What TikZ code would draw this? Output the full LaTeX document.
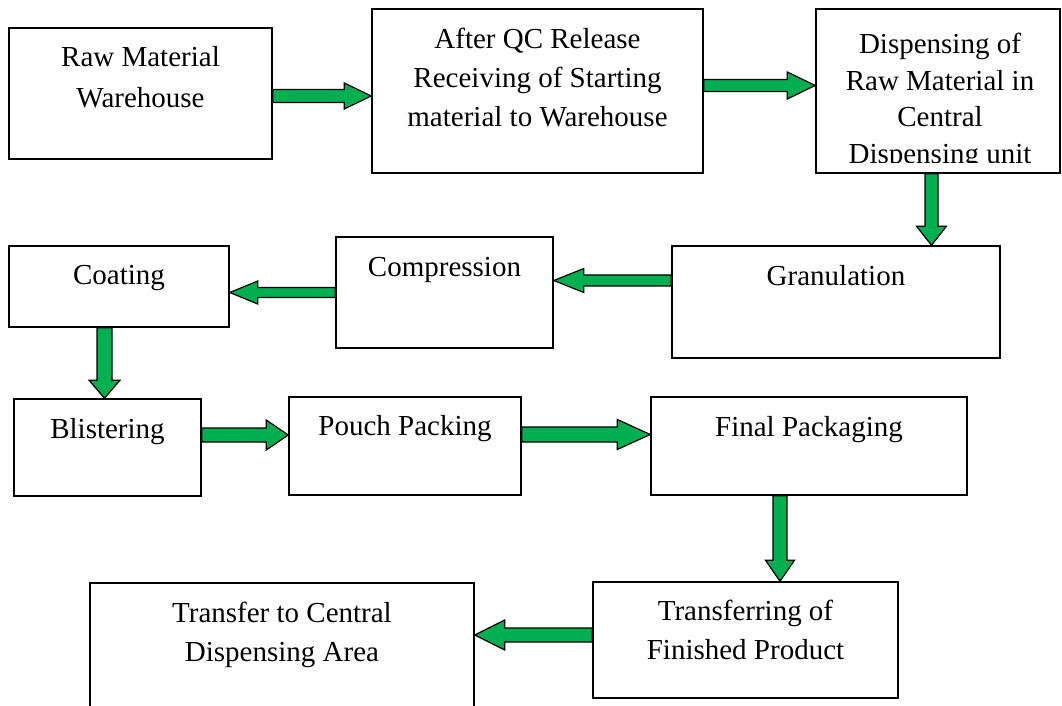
\documentclass[tikz,border=0pt]{standalone}
\usepackage{fontspec}
\setmainfont{Liberation Serif}
\usetikzlibrary{calc}
\definecolor{arrgreen}{RGB}{0,176,80}
\tikzset{
  box/.style={draw=black, line width=0.75pt, inner sep=0pt, fill=white},
  txt/.style={inner sep=0pt, anchor=north, align=center, font=\fontsize{14.5pt}{19.5pt}\selectfont},
  blk/.style={draw=black, line width=0.6pt, fill=arrgreen, line join=miter}
}
\newcommand\blockarrow[5]{%
  \coordinate (bahead) at ($(#2)!#5!(#1)$);
  \draw[blk] ($(#1)!#3!90:(#2)$) -- ($(bahead)!#3!90:(#2)$) -- ($(bahead)!#4!90:(#2)$) -- (#2)
    -- ($(bahead)!#4!-90:(#2)$) -- ($(bahead)!#3!-90:(#2)$) -- ($(#1)!#3!-90:(#2)$) -- cycle;}
\begin{document}
\begin{tikzpicture}[x=0.5pt,y=-0.5pt]
\useasboundingbox (0,0) rectangle (1062,706);
% boxes
\node[box, minimum width=131.5pt, minimum height=65.5pt] (b1) at (140.5,93.5) {};
\node[box, minimum width=165.5pt, minimum height=82pt] (b2) at (537.5,91) {};
\node[box, minimum width=122pt, minimum height=82pt] (b3) at (938,91) {};
\node[box, minimum width=164pt, minimum height=56pt] (b4) at (836,302) {};
\node[box, minimum width=108.5pt, minimum height=55.5pt] (b5) at (444.5,292.5) {};
\node[box, minimum width=110pt, minimum height=40.5pt] (b6) at (119,286.5) {};
\node[box, minimum width=93.5pt, minimum height=48.5pt] (b7) at (107.5,447.5) {};
\node[box, minimum width=116pt, minimum height=49pt] (b8) at (405,446) {};
\node[box, minimum width=158pt, minimum height=49pt] (b9) at (809,446) {};
\node[box, minimum width=152.5pt, minimum height=58pt] (b10) at (745.5,640) {};
\node[box, minimum width=192pt, minimum height=64.5pt] (b11) at (282,647.5) {};
% texts
\node[txt, font=\fontsize{14.5pt}{20.5pt}\selectfont] (t1) at (140.5,46) {Raw Material\\Warehouse};
\node[txt] (t2) at (537.5,28) {After QC Release\\Receiving of Starting\\material to Warehouse};
\begin{scope}
\clip (816,9) rectangle (1060,163);
\node[txt, font=\fontsize{14.5pt}{18.25pt}\selectfont] (t3) at (940,33) {Dispensing of\\Raw Material in\\Central\\Dispensing unit};
\end{scope}
\node[txt] (t4) at (836,265) {Granulation};
\node[txt] (t5) at (444.5,257) {Compression};
\node[txt] (t6) at (119,265) {Coating};
\node[txt] (t7) at (107.5,418) {Blistering};
\node[txt] (t8) at (405,415) {Pouch Packing};
\node[txt] (t9) at (809,416) {Final Packaging};
\node[txt] (t10) at (745.5,600) {Transferring of\\Finished Product};
\node[txt] (t11) at (282,602) {Transfer to Central\\Dispensing Area};
% connectors
\coordinate (a1s) at ([yshift=-1.25pt]b1.east);  \coordinate (a1e) at (b2.west |- a1s);
\coordinate (a2s) at ([yshift=2.75pt]b2.east);   \coordinate (a2e) at (b3.west |- a2s);
\coordinate (a3s) at ([xshift=-3.25pt]b3.south); \coordinate (a3e) at (b4.north -| a3s);
\coordinate (a4s) at ([yshift=10.75pt]b4.west);  \coordinate (a4e) at (b5.east |- a4s);
\coordinate (a5s) at (b5.west);                  \coordinate (a5e) at (b6.east |- a5s);
\coordinate (a6s) at ([xshift=-7.25pt]b6.south); \coordinate (a6e) at (b7.north -| a6s);
\coordinate (a7s) at ([yshift=6.25pt]b7.east);   \coordinate (a7e) at (b8.west |- a7s);
\coordinate (a8s) at ([yshift=5.75pt]b8.east);   \coordinate (a8e) at (b9.west |- a8s);
\coordinate (a9s) at ([xshift=-14.5pt]b9.south); \coordinate (a9e) at (b10.north -| a9s);
\coordinate (a10s) at ([yshift=2.5pt]b10.west);  \coordinate (a10e) at (b11.east |- a10s);
\blockarrow{a1s}{a1e}{3.25pt}{6.5pt}{13.5pt}
\blockarrow{a2s}{a2e}{3pt}{6.75pt}{14pt}
\blockarrow{a3s}{a3e}{3.25pt}{7.5pt}{9.5pt}
\blockarrow{a4s}{a4e}{2.75pt}{6pt}{15pt}
\blockarrow{a5s}{a5e}{2.5pt}{5.75pt}{14pt}
\blockarrow{a6s}{a6e}{3.75pt}{7.75pt}{9pt}
\blockarrow{a7s}{a7e}{3.5pt}{7.5pt}{11pt}
\blockarrow{a8s}{a8e}{3.75pt}{7.5pt}{16.5pt}
\blockarrow{a9s}{a9e}{3.5pt}{7.25pt}{10.5pt}
\blockarrow{a10s}{a10e}{3.5pt}{7.5pt}{15pt}
\end{tikzpicture}
\end{document}
